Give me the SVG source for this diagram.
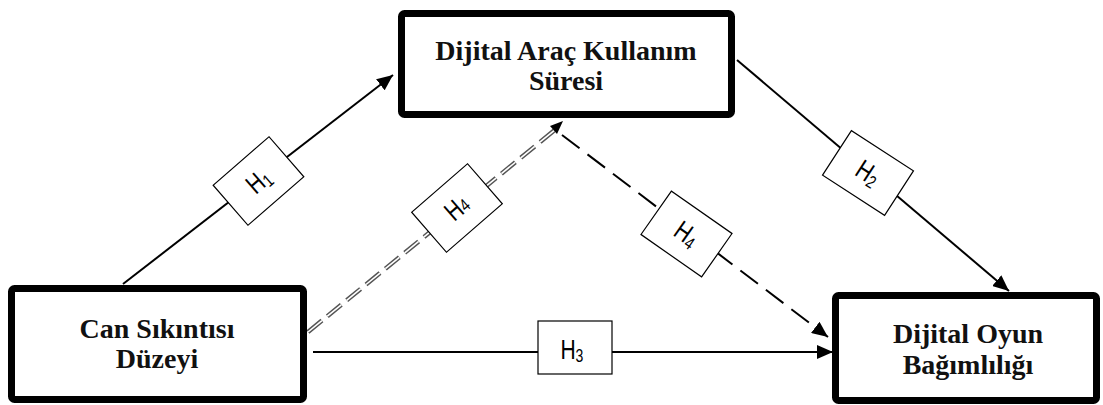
<svg xmlns="http://www.w3.org/2000/svg" width="1103" height="405" viewBox="0 0 1103 405">
<style>
.node{fill:#fff;stroke:#000;stroke-width:7}
.nt{font-family:"Liberation Serif",serif;font-weight:bold;font-size:28px;text-anchor:middle;fill:#111}
.ln{fill:none;stroke:#000;stroke-width:2}
.lab rect{fill:#fff;stroke:#000;stroke-width:1.2}
.lt{font-family:"Liberation Sans",sans-serif;font-size:27px;text-anchor:middle;fill:#000}
.sub{font-size:18px}
</style>
<defs>
<marker id="ah" markerUnits="userSpaceOnUse" markerWidth="18" markerHeight="14" refX="16" refY="7" orient="auto">
<path d="M0,0 L16,7 L0,14 z" fill="#000"/>
</marker>
</defs>
<rect width="1103" height="405" fill="#fff"/>
<g id="connectors">
<line class="ln" x1="123" y1="284" x2="393" y2="75" marker-end="url(#ah)"/>
<line class="ln" x1="737" y1="60" x2="1009" y2="291" marker-end="url(#ah)"/>
<line class="ln" x1="313" y1="352" x2="833" y2="352" marker-end="url(#ah)"/>
<line x1="308" y1="332" x2="556" y2="129" stroke="#555" stroke-width="4.5" stroke-dasharray="18 7"/>
<line x1="308" y1="332" x2="556" y2="129" stroke="#fff" stroke-width="1.6" stroke-dasharray="18 7"/>
<path d="M550,126 L563,121 L557,134 z" fill="#000"/>
<line class="ln" x1="562" y1="135" x2="828" y2="337" stroke-dasharray="22 10" marker-end="url(#ah)"/>
</g>
<g id="node-top">
<rect class="node" x="401.5" y="13.5" width="330" height="101" rx="3"/>
<text class="nt" x="566" y="60">Dijital Araç Kullanım</text>
<text class="nt" x="566" y="90">Süresi</text>
</g>
<g id="node-left">
<rect class="node" x="11.5" y="288.5" width="292" height="111" rx="3"/>
<text class="nt" x="157" y="338">Can Sıkıntısı</text>
<text class="nt" x="157" y="368">Düzeyi</text>
</g>
<g id="node-right">
<rect class="node" x="835.5" y="295.5" width="261" height="105" rx="3"/>
<text class="nt" x="968" y="343">Dijital Oyun</text>
<text class="nt" x="968" y="374">Bağımlılığı</text>
</g>
<g id="label-h1" class="lab" transform="translate(258.5 181) rotate(-41)">
<rect x="-37" y="-26.5" width="74" height="53"/>
<text class="lt" transform="scale(0.78 1)" x="0" y="9">H<tspan class="sub" dy="3">1</tspan></text>
</g>
<g id="label-h4a" class="lab" transform="translate(457 208) rotate(-41)">
<rect x="-37" y="-26.5" width="74" height="53"/>
<text class="lt" transform="scale(0.78 1)" x="0" y="9">H<tspan class="sub" dy="0">4</tspan></text>
</g>
<g id="label-h4b" class="lab" transform="translate(686.5 234) rotate(35)">
<rect x="-37" y="-26.5" width="74" height="53"/>
<text class="lt" transform="scale(0.78 1)" x="0" y="9">H<tspan class="sub" dy="3">4</tspan></text>
</g>
<g id="label-h2" class="lab" transform="translate(868 173) rotate(33)">
<rect x="-37" y="-26.5" width="74" height="53"/>
<text class="lt" transform="scale(0.78 1)" x="0" y="9">H<tspan class="sub" dy="3">2</tspan></text>
</g>
<g id="label-h3" class="lab" transform="translate(575 347.5)">
<rect x="-37" y="-26.5" width="74" height="53"/>
<text class="lt" transform="scale(0.78 1)" x="-4" y="11.5">H<tspan class="sub" dy="3">3</tspan></text>
</g>
</svg>
